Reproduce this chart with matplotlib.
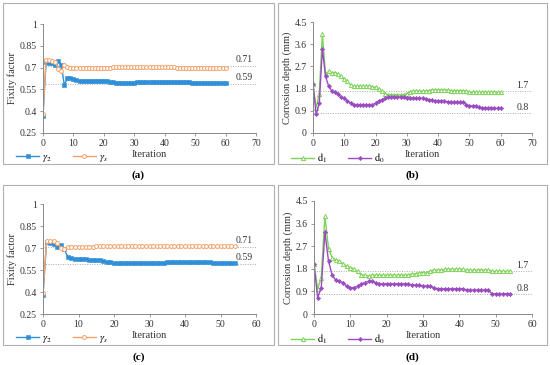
import matplotlib
matplotlib.use("Agg")
import matplotlib.pyplot as plt
from matplotlib.patches import Rectangle
import numpy as np

plt.rcParams['font.family'] = ['Liberation Serif', 'DejaVu Serif']
plt.rcParams['mathtext.fontset'] = 'stix'

# Panel (a): fixity factors, 61 iterations
a_g2 = [0.37, 0.74, 0.735, 0.73, 0.72, 0.745, 0.72, 0.58, 0.625, 0.625, 0.62,
        0.615, 0.61, 0.605, 0.605, 0.605, 0.605, 0.605, 0.605, 0.605, 0.605,
        0.605, 0.60, 0.598, 0.596, 0.596, 0.596, 0.596, 0.596, 0.596, 0.597,
        0.598, 0.598, 0.598, 0.598, 0.598, 0.598, 0.598, 0.598, 0.6, 0.6,
        0.6, 0.6, 0.6, 0.6, 0.6, 0.6, 0.598, 0.598, 0.597, 0.597,
        0.596, 0.595, 0.594, 0.594, 0.593, 0.593, 0.593, 0.593, 0.593, 0.593]
a_gs = [0.38, 0.75, 0.75, 0.745, 0.74, 0.69, 0.68, 0.715, 0.705, 0.70, 0.70,
        0.70, 0.70, 0.70, 0.70, 0.70, 0.70, 0.70, 0.70, 0.70, 0.70,
        0.70, 0.70, 0.701, 0.702, 0.702, 0.702, 0.702, 0.702, 0.702, 0.702,
        0.702, 0.702, 0.702, 0.702, 0.702, 0.702, 0.701, 0.701, 0.701, 0.701,
        0.701, 0.701, 0.701, 0.70, 0.70, 0.70, 0.70, 0.70, 0.699, 0.698,
        0.697, 0.696, 0.695, 0.695, 0.695, 0.695, 0.695, 0.695, 0.695, 0.695]

# Panel (b): corrosion depths, 61 iterations
b_d1 = [2.0, 1.0, 1.6, 4.0, 2.4, 2.5, 2.45, 2.45, 2.4, 2.3, 2.2,
        2.1, 1.95, 1.9, 1.9, 1.9, 1.9, 1.9, 1.9, 1.88, 1.85,
        1.8, 1.7, 1.6, 1.55, 1.55, 1.55, 1.55, 1.55, 1.55, 1.6,
        1.68, 1.7, 1.7, 1.7, 1.7, 1.7, 1.72, 1.75, 1.75, 1.75,
        1.75, 1.75, 1.75, 1.72, 1.72, 1.72, 1.72, 1.72, 1.7, 1.65,
        1.65, 1.65, 1.65, 1.65, 1.65, 1.65, 1.65, 1.65, 1.65, 1.65]
b_d0 = [2.0, 0.75, 1.2, 3.4, 2.3, 1.9, 1.7, 1.65, 1.6, 1.45, 1.4,
        1.3, 1.2, 1.15, 1.15, 1.15, 1.15, 1.15, 1.15, 1.15, 1.2,
        1.3, 1.35, 1.4, 1.45, 1.45, 1.45, 1.45, 1.45, 1.45, 1.42,
        1.4, 1.4, 1.4, 1.4, 1.4, 1.38, 1.35, 1.32, 1.3, 1.3,
        1.3, 1.28, 1.27, 1.25, 1.25, 1.25, 1.25, 1.25, 1.15, 1.1,
        1.1, 1.1, 1.05, 1.0, 1.0, 1.0, 1.0, 1.0, 1.0, 1.0]

# Panel (c): fixity factors, 55 iterations
c_g2 = [0.38, 0.74, 0.735, 0.725, 0.71, 0.72, 0.69, 0.64, 0.63, 0.625, 0.625,
        0.625, 0.625, 0.62, 0.62, 0.62, 0.62, 0.61, 0.605, 0.603, 0.60,
        0.60, 0.598, 0.598, 0.598, 0.598, 0.598, 0.598, 0.598, 0.6, 0.6,
        0.6, 0.6, 0.6, 0.6, 0.602, 0.602, 0.602, 0.603, 0.603, 0.603,
        0.603, 0.603, 0.603, 0.602, 0.602, 0.602, 0.602, 0.6, 0.6, 0.6,
        0.6, 0.6, 0.6, 0.6]
c_gs = [0.39, 0.75, 0.75, 0.745, 0.735, 0.70, 0.69, 0.71, 0.71, 0.71, 0.71,
        0.71, 0.71, 0.71, 0.71, 0.712, 0.712, 0.713, 0.714, 0.715, 0.715,
        0.715, 0.715, 0.715, 0.715, 0.715, 0.715, 0.715, 0.715, 0.715, 0.715,
        0.715, 0.715, 0.714, 0.714, 0.714, 0.714, 0.714, 0.714, 0.714, 0.714,
        0.714, 0.714, 0.714, 0.714, 0.714, 0.714, 0.714, 0.714, 0.714, 0.714,
        0.714, 0.714, 0.714, 0.714]

# Panel (d): corrosion depths, 55 iterations
d_d1 = [2.0, 1.0, 1.45, 3.9, 2.6, 2.25, 2.15, 2.1, 2.0, 1.9, 1.85,
        1.8, 1.7, 1.55, 1.55, 1.5, 1.55, 1.55, 1.55, 1.55, 1.55,
        1.55, 1.55, 1.55, 1.55, 1.55, 1.55, 1.6, 1.6, 1.65, 1.65,
        1.65, 1.7, 1.75, 1.75, 1.75, 1.78, 1.78, 1.78, 1.78, 1.78,
        1.78, 1.75, 1.75, 1.75, 1.75, 1.75, 1.75, 1.75, 1.7, 1.7,
        1.7, 1.7, 1.7, 1.7]
d_d0 = [2.0, 0.65, 1.05, 3.25, 2.1, 1.55, 1.35, 1.3, 1.25, 1.1, 1.05,
        1.05, 1.1, 1.2, 1.25, 1.3, 1.3, 1.25, 1.2, 1.2, 1.2,
        1.2, 1.2, 1.2, 1.2, 1.2, 1.2, 1.15, 1.15, 1.15, 1.12,
        1.1, 1.1, 1.05, 1.0, 1.0, 1.0, 1.0, 1.0, 1.0, 1.0,
        1.0, 0.95, 0.95, 0.95, 0.95, 0.95, 0.95, 0.95, 0.8, 0.8,
        0.8, 0.8, 0.8, 0.8]

fix_ticks = [0.25, 0.4, 0.55, 0.7, 0.85, 1]
fix_ticklabels = ['0.25', '0.4', '0.55', '0.7', '0.85', '1']
dep_ticks = [0, 0.9, 1.8, 2.7, 3.6, 4.5]
dep_ticklabels = ['0', '0.9', '1.8', '2.7', '3.6', '4.5']
fix_refs = [0.71, 0.59]
dep_refs = [1.7, 0.8]

BLUE = '#2F8FD8'
ORANGE = '#F5A26A'
GREEN = '#7ED35A'
PURPLE = '#9A4CC0'
GRAY = '#888888'

W, H = 550, 365
fig = plt.figure(figsize=(W / 100, H / 100), dpi=100)


def px(l, r, t, b):
    return [l / W, 1 - b / H, (r - l) / W, (b - t) / H]


def style(ax, xmax, yticks, ylabels, ylim, ylabel):
    for s in ['top', 'right']:
        ax.spines[s].set_visible(False)
    for s in ['left', 'bottom']:
        ax.spines[s].set_color(GRAY)
        ax.spines[s].set_linewidth(0.7)
    ax.set_xlim(0, xmax)
    ax.set_xticks(range(0, xmax + 1, 10))
    ax.set_ylim(*ylim)
    ax.set_yticks(yticks)
    ax.set_yticklabels(ylabels)
    ax.tick_params(labelsize=7, length=2.5, width=0.6, color=GRAY, pad=2,
                   labelcolor='#333333')
    ax.set_xlabel('Iteration', fontsize=7.5, labelpad=1, color='#333333')
    ax.set_ylabel(ylabel, fontsize=7.5, labelpad=2, color='#333333')


def reflines(ax, refs, xmax, fmt, off):
    for r in refs:
        ax.axhline(r, xmin=0, xmax=1, color='#aaaaaa', lw=0.7, ls=(0, (1, 1.5)))
        ax.text(xmax * 0.985, r + off, fmt.format(r), fontsize=7,
                ha='right', va='bottom', color='#333333')


panels = [
    ('(a)', px(43, 256, 24, 133), (3, 3, 274, 164), 175, 70),
    ('(b)', px(313, 532, 22, 133), (278, 3, 547, 164), 175, 70),
    ('(c)', px(43, 256, 204, 314), (3, 185, 274, 345), 357, 60),
    ('(d)', px(314, 532, 201, 314), (278, 185, 547, 345), 357, 60),
]

series = [
    (a_g2, a_gs), (b_d1, b_d0), (c_g2, c_gs), (d_d1, d_d0)
]

for i, (lab, rect, box, laby, xmax) in enumerate(panels):
    bl, bt, br, bb = box
    fig.patches.append(Rectangle((bl / W, 1 - bb / H), (br - bl) / W, (bb - bt) / H,
                                 transform=fig.transFigure, fill=False,
                                 ec='#b0b0b0', lw=0.8))
    fig.text(((bl + br) / 2) / W, 1 - laby / H, lab, fontsize=8,
             fontweight='bold', ha='center', va='center')
    ax = fig.add_axes(rect)
    s1, s2 = series[i]
    x1 = np.arange(len(s1))
    x2 = np.arange(len(s2))
    if i in (0, 2):
        reflines(ax, fix_refs, xmax, '{:.2f}', 0.012)
        l1, = ax.plot(x1, s1, color=BLUE, lw=1.0, marker='s', ms=2.4,
                      mfc=BLUE, mec=BLUE, mew=0.4)
        l2, = ax.plot(x2, s2, color=ORANGE, lw=1.0, marker='o', ms=2.8,
                      mfc='white', mec=ORANGE, mew=0.7)
        style(ax, xmax, fix_ticks, fix_ticklabels, (0.25, 1), 'Fixity factor')
        names = [r'$\gamma_2$', r'$\gamma_s$']
    else:
        reflines(ax, dep_refs, xmax, '{:.1f}', 0.05)
        l1, = ax.plot(x1, s1, color=GREEN, lw=1.0, marker='^', ms=3.0,
                      mfc='white', mec=GREEN, mew=0.7)
        l2, = ax.plot(x2, s2, color=PURPLE, lw=1.0, marker='D', ms=2.2,
                      mfc=PURPLE, mec=PURPLE, mew=0.4)
        style(ax, xmax, dep_ticks, dep_ticklabels, (0, 4.5), 'Corrosion depth (mm)')
        names = [r'$\mathrm{d}_1$', r'$\mathrm{d}_0$']
    fig.legend([l1, l2], names, loc='center left',
               bbox_to_anchor=((bl + 8) / W, 1 - (bb - 6) / H),
               ncol=2, frameon=False, fontsize=7.5, handlelength=2.2,
               columnspacing=2.0, handletextpad=0.3, borderpad=0)

fig.savefig('out.png', dpi=100)
